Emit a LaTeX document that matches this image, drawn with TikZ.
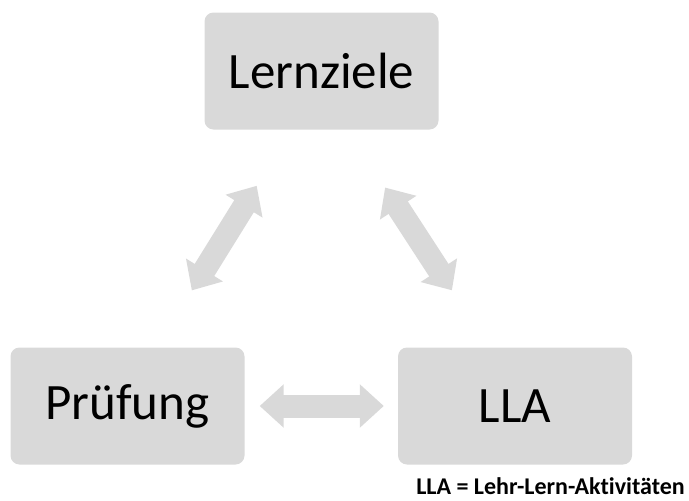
\documentclass[tikz,border=0pt]{standalone}
\usepackage{fontspec}
\setmainfont{Carlito}[Ligatures=NoCommon]
\usepackage{tikz}
\usetikzlibrary{arrows.meta}
\definecolor{boxgray}{RGB}{217,217,217}
\definecolor{arrowgray}{RGB}{217,217,217}

\begin{document}
\begin{tikzpicture}[x=1pt,y=-1pt,
  topic/.style={fill=boxgray,rounded corners=9pt,minimum width=234pt,minimum height=117pt,
    inner sep=0pt,font=\fontsize{51}{60}\selectfont},
  blockarrow/.style={draw=arrowgray,line width=23pt,
    {Triangle[width=42pt,length=24pt]}-{Triangle[width=42pt,length=24pt]}}]
\useasboundingbox (0,0) rectangle (689,501);
\node[topic] (lern) at (321.5,71) {Lernziele};
\node[topic] (pruef) at (127.5,406) {Prüfung};
\node[topic] (lla) at (515,406) {LLA};
% double arrows between the three topics
\draw[blockarrow,shorten <=15pt,shorten >=14pt] (pruef.east) -- (lla.west);
\draw[blockarrow,shorten <=67pt,shorten >=66pt] ([xshift=29pt]pruef.north) -- ([xshift=-30pt]lern.south);
\draw[blockarrow,shorten <=69pt,shorten >=68pt] ([xshift=26pt]lern.south) -- ([xshift=-26pt]lla.north);
\node[font=\fontsize{24}{30}\selectfont\bfseries,anchor=base east,inner sep=0pt] (legend) at (685,494) {LLA = Lehr-Lern-Aktivitäten};
\end{tikzpicture}
\end{document}
